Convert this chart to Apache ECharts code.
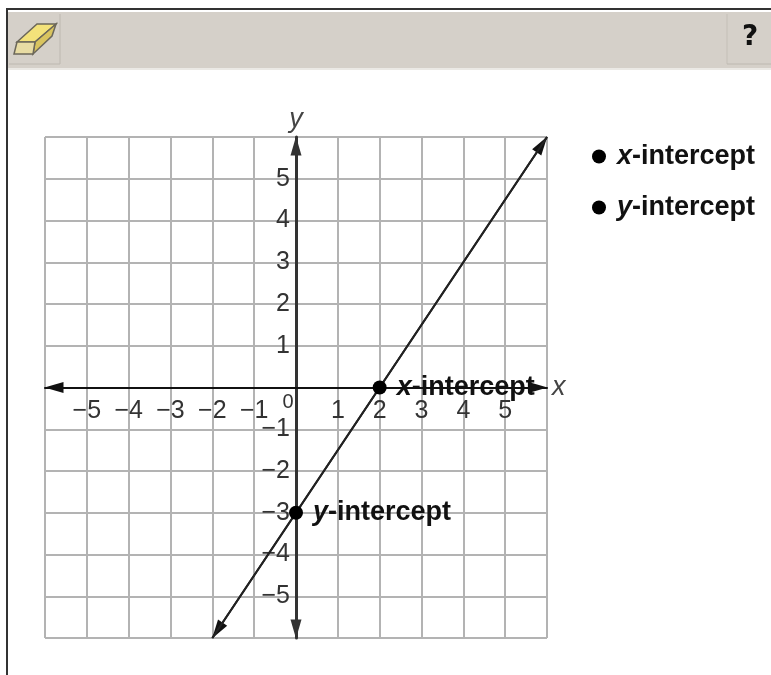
<!DOCTYPE html>
<html>
<head>
<meta charset="utf-8">
<style>
  html, body { margin: 0; padding: 0; background: #fff; }
  #chart { width: 771px; height: 675px; }
</style>
<script src="https://cdn.jsdelivr.net/npm/echarts@6/dist/echarts.min.js"></script>
</head>
<body>
<div id="chart"></div>
<script>
// axis range and tick labels
const axisMin = -6;
const axisMax = 6;
const xTickLabels = ["−5", "−4", "−3", "−2", "−1", "1", "2", "3", "4", "5"];
const yTickLabels = ["−5", "−4", "−3", "−2", "−1", "1", "2", "3", "4", "5"];

// the graphed line, end to end
const lineEnds = [[-2, -6], [6, 6]];

// intercept points
const xIntercept = [[2, 0]];
const yIntercept = [[0, -3]];

const fontFamily = '"Liberation Sans", Arial, sans-serif';
const textColor = "#333";

function tickText(labels, v) {
  const s = String(v).replace("-", "−");
  return labels.indexOf(s) >= 0 ? s : "";
}

function boldRich(leftPad) {
  return {
    i: { fontFamily: fontFamily, fontSize: 27, fontWeight: "bold", fontStyle: "italic", color: "#111", padding: [0, 0, 0, leftPad] },
    b: { fontFamily: fontFamily, fontSize: 27, fontWeight: "bold", color: "#111" },
  };
}

function interceptSeries(name, data) {
  return {
    name: name,
    type: "scatter",
    data: data,
    symbol: "circle",
    symbolSize: 14,
    z: 10,
    itemStyle: { color: "#000", opacity: 1 },
    label: {
      show: true,
      position: "right",
      distance: 10,
      formatter: "{i|" + name.charAt(0) + "}{b|" + name.slice(1) + "}",
      rich: boldRich(0),
    },
  };
}

const chart = echarts.init(document.getElementById("chart"));

chart.setOption({
  backgroundColor: "#fff",
  animation: false,
  textStyle: { fontFamily: fontFamily },
  grid: { left: 45, top: 137, width: 502, height: 501 },
  legend: {
    left: 587,
    top: 138,
    orient: "vertical",
    itemGap: 24,
    itemWidth: 14,
    itemHeight: 14,
    icon: "circle",
    data: ["x-intercept", "y-intercept"],
    formatter: (name) => "{i|" + name.charAt(0) + "}{b|" + name.slice(1) + "}",
    textStyle: { rich: boldRich(6) },
  },
  xAxis: {
    type: "value",
    min: axisMin,
    max: axisMax,
    interval: 1,
    name: "x",
    nameLocation: "end",
    nameGap: 5,
    nameTextStyle: { fontSize: 27, fontStyle: "italic", color: "#444", fontFamily: fontFamily },
    axisLine: {
      show: true,
      onZero: true,
      symbol: ["triangle", "triangle"],
      symbolSize: [11, 19],
      symbolOffset: [9, -9],
      lineStyle: { color: "#111", width: 2 },
    },
    axisTick: { show: false },
    axisLabel: {
      // v6 keeps labels at the grid edge, so pull them up to the zero line
      margin: -239,
      fontSize: 25,
      color: textColor,
      showMinLabel: false,
      showMaxLabel: false,
      hideOverlap: false,
      formatter: (v) => tickText(xTickLabels, v),
    },
    splitLine: { show: true, lineStyle: { color: "#b3b3b3", width: 2 } },
  },
  yAxis: {
    type: "value",
    min: axisMin,
    max: axisMax,
    interval: 1,
    name: "y",
    nameLocation: "end",
    nameGap: 4,
    nameTextStyle: { fontSize: 27, fontStyle: "italic", color: "#444", fontFamily: fontFamily },
    axisLine: {
      show: true,
      onZero: true,
      symbol: ["triangle", "triangle"],
      symbolSize: [11, 19],
      symbolOffset: [9, -9],
      lineStyle: { color: "#333", width: 3 },
    },
    axisTick: { show: false },
    axisLabel: {
      margin: -245,
      fontSize: 25,
      color: textColor,
      showMinLabel: false,
      showMaxLabel: false,
      hideOverlap: false,
      formatter: (v) => tickText(yTickLabels, v),
    },
    splitLine: { show: true, lineStyle: { color: "#b3b3b3", width: 2 } },
  },
  series: [
    {
      name: "line",
      type: "line",
      data: lineEnds,
      symbol: "none",
      silent: true,
      z: 5,
      lineStyle: { color: "#222", width: 2 },
      markLine: {
        silent: true,
        symbol: ["triangle", "triangle"],
        symbolSize: [11, 19],
        symbolOffset: [[0, 9], [0, 9]],
        label: { show: false },
        lineStyle: { color: "#111", width: 2, type: "solid" },
        data: [[{ coord: lineEnds[0] }, { coord: lineEnds[1] }]],
      },
    },
    interceptSeries("x-intercept", xIntercept),
    interceptSeries("y-intercept", yIntercept),
  ],
  graphic: [
    // frame and toolbar
    { type: "rect", shape: { x: 8, y: 12, width: 763, height: 56 }, style: { fill: "#d5d0c9" }, z: 1 },
    { type: "rect", shape: { x: 8, y: 68, width: 763, height: 2 }, style: { fill: "#ebe9e5" }, z: 1 },
    { type: "rect", shape: { x: 6, y: 8, width: 765, height: 2 }, style: { fill: "#333" }, z: 1 },
    { type: "rect", shape: { x: 6, y: 8, width: 2, height: 667 }, style: { fill: "#333" }, z: 1 },
    { type: "line", shape: { x1: 60, y1: 14, x2: 60, y2: 64 }, style: { stroke: "#bdb8b0", lineWidth: 1 }, z: 2 },
    { type: "line", shape: { x1: 9, y1: 64, x2: 60, y2: 64 }, style: { stroke: "#bdb8b0", lineWidth: 1 }, z: 2 },
    { type: "line", shape: { x1: 727, y1: 14, x2: 727, y2: 64 }, style: { stroke: "#c4bfb7", lineWidth: 1 }, z: 2 },
    { type: "line", shape: { x1: 727, y1: 64, x2: 771, y2: 64 }, style: { stroke: "#bdb8b0", lineWidth: 1 }, z: 2 },
    // eraser
    { type: "polygon", shape: { points: [[17, 42], [37, 24], [56, 24], [35, 42]] }, style: { fill: "#f3e27a", stroke: "#6b675a", lineWidth: 1.5 }, z: 3 },
    { type: "polygon", shape: { points: [[35, 42], [56, 24], [52, 36], [33, 54]] }, style: { fill: "#d9c45f", stroke: "#6b675a", lineWidth: 1.5 }, z: 3 },
    { type: "polygon", shape: { points: [[17, 42], [35, 42], [33, 54], [14, 54]] }, style: { fill: "#e8dca4", stroke: "#6b675a", lineWidth: 1.5 }, z: 3 },
    // help mark
    { type: "text", x: 750, y: 38, z: 3, style: { text: "?", fontFamily: '"DejaVu Sans", sans-serif', fontSize: 28, fontWeight: "bold", fill: "#111", align: "center", verticalAlign: "middle" } },
    // origin label sits off the axis
    { type: "text", x: 288, y: 402, z: 3, style: { text: "0", fontFamily: fontFamily, fontSize: 20, fill: textColor, align: "center", verticalAlign: "middle" } },
  ],
});
</script>
</body>
</html>
